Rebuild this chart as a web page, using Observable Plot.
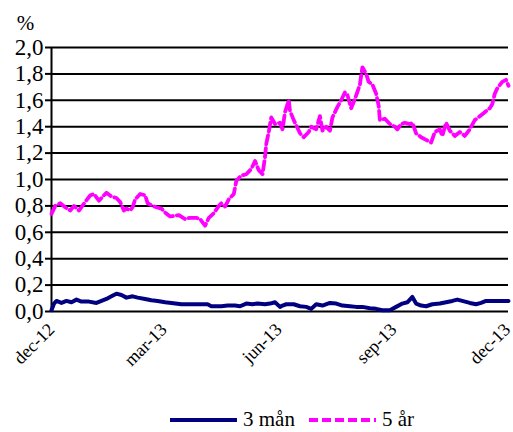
<!DOCTYPE html>
<html>
<head>
<meta charset="utf-8">
<script src="https://cdn.jsdelivr.net/npm/d3@7"></script>
<script src="https://cdn.jsdelivr.net/npm/@observablehq/plot@0.6"></script>
<style>
  html, body { margin: 0; padding: 0; background: #fff; font-family: 'Liberation Serif'; }
  #wrap { position: relative; width: 513px; height: 432px; }
  #chart svg, #chart svg text { font-family: 'Liberation Serif' !important; }
  #legend { position: absolute; top: 407px; left: 170px; display: flex; align-items: center; font-size: 21px; color: #000; white-space: nowrap; font-family: 'Liberation Serif'; }
  #legend svg { display: block; }
  #legend span { margin-left: 6px; margin-right: 14px; }
</style>
</head>
<body>
<div id="wrap">
  <div id="chart"></div>
  <div id="legend"></div>
</div>
<script>
// ---- data ----
const seriesNames = ["3 mån", "5 år"];
const seriesColors = ["#000080", "#FF00FF"];

const dates3m = ["2012-12-01","2012-12-03","2012-12-05","2012-12-09","2012-12-13","2012-12-17","2012-12-21","2012-12-25","2012-12-31",
  "2013-01-06","2013-01-10","2013-01-14","2013-01-18","2013-01-22","2013-01-26","2013-01-30","2013-02-04","2013-02-08","2013-02-14",
  "2013-02-19","2013-02-24","2013-03-02","2013-03-07","2013-03-15","2013-03-26","2013-04-05","2013-04-08","2013-04-16","2013-04-21",
  "2013-04-27","2013-05-01","2013-05-06","2013-05-11","2013-05-15","2013-05-21","2013-05-25","2013-05-29","2013-06-02","2013-06-04",
  "2013-06-07","2013-06-13","2013-06-18","2013-06-23","2013-06-27","2013-07-01","2013-07-06","2013-07-12","2013-07-17","2013-07-22",
  "2013-07-28","2013-08-02","2013-08-07","2013-08-13","2013-08-18","2013-08-23","2013-08-29","2013-09-03","2013-09-08","2013-09-12",
  "2013-09-16","2013-09-19","2013-09-23","2013-09-27","2013-10-02","2013-10-08","2013-10-13","2013-10-18","2013-10-22","2013-10-26",
  "2013-11-01","2013-11-06","2013-11-10","2013-11-14","2013-11-20","2013-12-02"];
const values3m = [0.01,0.06,0.08,0.065,0.08,0.07,0.09,0.075,0.075,
  0.065,0.08,0.095,0.115,0.135,0.125,0.105,0.115,0.105,0.095,
  0.085,0.08,0.07,0.065,0.055,0.055,0.055,0.04,0.04,0.045,
  0.045,0.04,0.06,0.055,0.06,0.055,0.06,0.07,0.035,0.045,
  0.055,0.055,0.04,0.035,0.02,0.055,0.045,0.065,0.06,0.045,
  0.04,0.035,0.035,0.025,0.02,0.01,0.01,0.035,0.06,0.07,
  0.11,0.06,0.045,0.04,0.055,0.06,0.07,0.08,0.09,0.08,
  0.065,0.055,0.065,0.08,0.08,0.08];

const dates5y = ["2012-12-01","2012-12-04","2012-12-08","2012-12-12","2012-12-16","2012-12-19","2012-12-23","2012-12-25","2012-12-28",
  "2013-01-01","2013-01-04","2013-01-08","2013-01-12","2013-01-14","2013-01-18","2013-01-22","2013-01-25","2013-01-28","2013-01-30",
  "2013-02-02","2013-02-04","2013-02-06","2013-02-10","2013-02-14","2013-02-16","2013-02-20","2013-02-23","2013-02-27","2013-03-02",
  "2013-03-06","2013-03-13","2013-03-18","2013-03-22","2013-03-27","2013-03-30","2013-04-03","2013-04-06","2013-04-10","2013-04-14",
  "2013-04-16","2013-04-19","2013-04-22","2013-04-26","2013-04-28","2013-05-02","2013-05-06","2013-05-10","2013-05-13","2013-05-16",
  "2013-05-19","2013-05-21","2013-05-22","2013-05-24","2013-05-26","2013-05-29","2013-06-02","2013-06-04","2013-06-06","2013-06-09",
  "2013-06-10","2013-06-13","2013-06-15","2013-06-18","2013-06-21","2013-06-25","2013-06-27","2013-07-01","2013-07-04","2013-07-06",
  "2013-07-09","2013-07-12","2013-07-14","2013-07-18","2013-07-21","2013-07-24","2013-07-26","2013-07-29","2013-08-01","2013-08-05",
  "2013-08-07","2013-08-10","2013-08-12","2013-08-15","2013-08-18","2013-08-20","2013-08-21","2013-08-25","2013-08-29","2013-09-02",
  "2013-09-04","2013-09-07","2013-09-10","2013-09-14","2013-09-16","2013-09-19","2013-09-23","2013-09-27","2013-10-01","2013-10-04",
  "2013-10-08","2013-10-10","2013-10-13","2013-10-16","2013-10-20","2013-10-24","2013-10-28","2013-11-01","2013-11-05","2013-11-09",
  "2013-11-13","2013-11-17","2013-11-19","2013-11-21","2013-11-23","2013-11-27","2013-11-30","2013-12-02"];
const values5y = [0.74,0.80,0.82,0.79,0.765,0.80,0.765,0.79,0.83,
  0.88,0.89,0.84,0.88,0.90,0.87,0.86,0.83,0.765,0.78,
  0.765,0.79,0.85,0.89,0.88,0.82,0.80,0.79,0.78,0.75,
  0.72,0.73,0.70,0.71,0.71,0.70,0.65,0.71,0.745,0.80,
  0.82,0.795,0.85,0.89,0.99,1.03,1.04,1.08,1.14,1.07,
  1.04,1.17,1.27,1.36,1.47,1.42,1.43,1.38,1.51,1.60,
  1.52,1.45,1.41,1.35,1.32,1.36,1.40,1.38,1.48,1.37,
  1.40,1.37,1.47,1.55,1.60,1.66,1.64,1.54,1.61,1.72,
  1.85,1.80,1.74,1.72,1.65,1.56,1.45,1.46,1.42,1.40,
  1.38,1.42,1.43,1.42,1.43,1.35,1.32,1.30,1.28,1.36,
  1.38,1.33,1.43,1.37,1.33,1.36,1.33,1.38,1.45,1.48,
  1.51,1.54,1.57,1.65,1.69,1.74,1.755,1.71];

const yTicks = [0, 0.2, 0.4, 0.6, 0.8, 1.0, 1.2, 1.4, 1.6, 1.8, 2.0];
const xTickDates = ["2012-12-01","2013-03-01","2013-06-01","2013-09-01","2013-12-01"];
const xTickLabels = ["dec-12","mar-13","jun-13","sep-13","dec-13"];
const xDomain = ["2012-12-01","2013-12-02"];

// ---- build ----
const parse = d3.utcParse("%Y-%m-%d");
const data3m = dates3m.map((d, i) => ({date: parse(d), value: values3m[i]}));
const data5y = dates5y.map((d, i) => ({date: parse(d), value: values5y[i]}));
const tickDates = xTickDates.map(parse);
const labelOf = new Map(tickDates.map((d, i) => [+d, xTickLabels[i]]));

const font = "'Liberation Serif'";

const chart = Plot.plot({
  width: 513,
  height: 390,
  marginLeft: 51,
  marginRight: 5,
  marginTop: 47,
  marginBottom: 79,
  style: {fontFamily: font, background: "#fff", color: "#000", overflow: "visible"},
  x: {type: "utc", domain: xDomain.map(parse)},
  y: {domain: [0, 2]},
  marks: [
    Plot.ruleY(yTicks, {stroke: "#000", strokeWidth: 2}),
    Plot.axisY({ticks: yTicks, tickFormat: d => d.toFixed(1).replace(".", ","), tickSize: 6, tickPadding: 2,
      fontSize: 23, fontFamily: font, stroke: "#000", strokeWidth: 2, strokeOpacity: 1, fill: "#000", label: null}),
    Plot.axisX({ticks: tickDates, tickFormat: d => labelOf.get(+d), tickSize: 0, tickRotate: -45, tickPadding: 15,
      fontSize: 18, fontFamily: font, fill: "#000", label: null}),
    Plot.ruleX([parse(xDomain[0])], {stroke: "#000", strokeWidth: 2}),
    Plot.text(["%"], {frameAnchor: "top-left", dx: -26, dy: -32, fontSize: 21, fontFamily: font, fill: "#000", textAnchor: "middle"}),
    Plot.line(data3m, {x: "date", y: "value", stroke: seriesColors[0], strokeWidth: 4, curve: "linear"}),
    Plot.line(data5y, {x: "date", y: "value", stroke: seriesColors[1], strokeWidth: 3.8, strokeDasharray: "9,4", curve: "linear"})
  ]
});
document.getElementById("chart").appendChild(chart);

// legend
const legend = document.getElementById("legend");
seriesNames.forEach((name, i) => {
  const ns = "http://www.w3.org/2000/svg";
  const s = document.createElementNS(ns, "svg");
  s.setAttribute("width", 67); s.setAttribute("height", 10);
  const l = document.createElementNS(ns, "line");
  l.setAttribute("x1", 0); l.setAttribute("x2", 67); l.setAttribute("y1", 5); l.setAttribute("y2", 5);
  l.setAttribute("stroke", seriesColors[i]);
  l.setAttribute("stroke-width", i === 0 ? 4 : 3.8);
  if (i === 1) l.setAttribute("stroke-dasharray", "9,4");
  s.appendChild(l);
  legend.appendChild(s);
  const t = document.createElement("span");
  t.textContent = name;
  legend.appendChild(t);
});
</script>
</body>
</html>
